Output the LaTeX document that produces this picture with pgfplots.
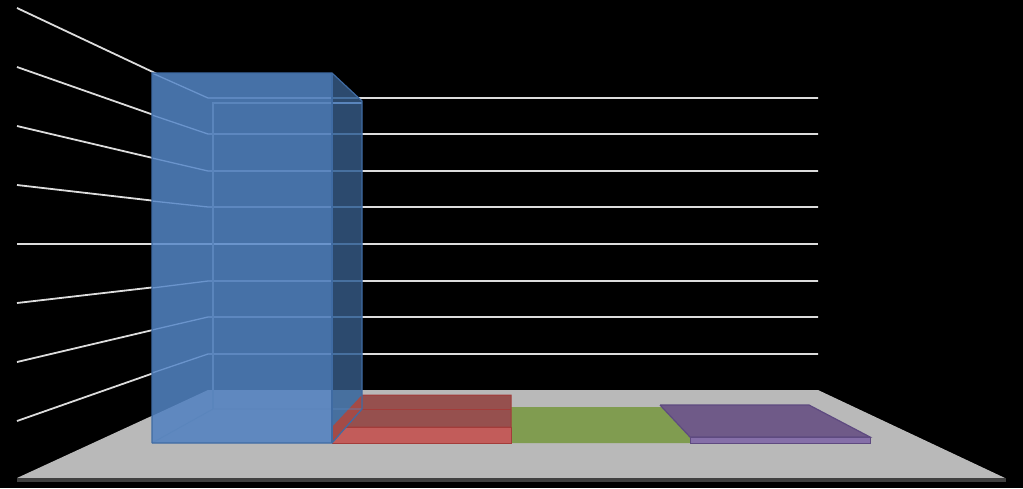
\documentclass[border=0pt]{standalone}
\usepackage{pgfplots}
\pgfplotsset{compat=1.18}
\definecolor{gridc}{HTML}{DCDCDC}
\definecolor{floorc}{HTML}{B9B9B9}
\definecolor{blueF}{HTML}{4671A7}
\definecolor{blueL}{HTML}{5F88BF}
\definecolor{blueS}{HTML}{2C4A6E}
\definecolor{blueSL}{HTML}{47709F}
\definecolor{blueE}{HTML}{3F6BA3}
\definecolor{blueG}{HTML}{6A94CC}
\definecolor{blueI}{HTML}{5A85BC}
\definecolor{redF}{HTML}{C25C5A}
\definecolor{redT}{HTML}{96504E}
\definecolor{redS}{HTML}{A34B47}
\definecolor{redE}{HTML}{A33C3A}
\definecolor{greenF}{HTML}{809C50}
\definecolor{purT}{HTML}{6F5A88}
\definecolor{purF}{HTML}{856FA8}
\definecolor{purE}{HTML}{5E4A80}
\begin{document}
\begin{tikzpicture}
\begin{axis}[scale only axis,width=1023pt,height=488pt,xmin=0,xmax=1023,ymin=0,ymax=488,y dir=reverse,hide axis,clip=true,no markers]
% background
\addplot[fill=black,draw=none] coordinates {(0,0)(1023,0)(1023,488)(0,488)};
% gridlines
\addplot[gridc,line width=1.8pt] coordinates {(17,8)(208,98)(818,98)};
\addplot[gridc,line width=1.8pt] coordinates {(17,67)(208,134)(818,134)};
\addplot[gridc,line width=1.8pt] coordinates {(17,126)(208,171)(818,171)};
\addplot[gridc,line width=1.8pt] coordinates {(17,185)(208,207)(818,207)};
\addplot[gridc,line width=1.8pt] coordinates {(17,244)(208,244)(818,244)};
\addplot[gridc,line width=1.8pt] coordinates {(17,303)(208,281)(818,281)};
\addplot[gridc,line width=1.8pt] coordinates {(17,362)(208,317)(818,317)};
\addplot[gridc,line width=1.8pt] coordinates {(17,421)(208,354)(818,354)};
% floor
\addplot[fill=floorc,draw=none] coordinates {(17,478)(1005,478)(818,390)(208,390)};
\addplot[fill=black!75,draw=none] coordinates {(17,478)(1006,478)(1006,482)(17,482)};
% green bar
\addplot[fill=greenF,draw=none] coordinates {(511,407)(670,407)(690,437)(690,443)(511,443)};
% red bar
\addplot[fill=redT,draw=redE,line width=1pt] coordinates {(332,427)(362,395)(511,395)(511,427)(332,427)};
\addplot[fill=redF,draw=redE,line width=1pt] coordinates {(332,427)(511,427)(511,443)(332,443)(332,427)};
\addplot[redE,line width=0.8pt] coordinates {(362,409)(511,409)};
% blue bar
\addplot[fill=blueF,draw=none] coordinates {(152,73)(332,73)(332,443)(152,443)};
\addplot[fill=blueL,draw=none] coordinates {(152,416)(208,390)(332,390)(332,443)(152,443)};
\addplot[fill=blueS,draw=none] coordinates {(332,73)(362,101)(362,390)(332,390)};
\addplot[fill=blueSL,draw=none] coordinates {(332,390)(362,390)(362,409)(332,443)};
\addplot[fill=redS,draw=none] coordinates {(332,427)(362,395)(362,409)(332,443)};
% grid seen through the bar
\addplot[blueG,line width=1.3pt] coordinates {(152,73)(208,98)(332,98)};
\addplot[blueG,line width=1.3pt] coordinates {(152,115)(208,134)(332,134)};
\addplot[blueG,line width=1.3pt] coordinates {(152,158)(208,171)(332,171)};
\addplot[blueG,line width=1.3pt] coordinates {(152,201)(208,207)(332,207)};
\addplot[blueG,line width=1.3pt] coordinates {(152,244)(208,244)(332,244)};
\addplot[blueG,line width=1.3pt] coordinates {(152,288)(208,281)(332,281)};
\addplot[blueG,line width=1.3pt] coordinates {(152,330)(208,317)(332,317)};
\addplot[blueG,line width=1.3pt] coordinates {(152,373)(208,354)(332,354)};
\addplot[blueSL,line width=1.1pt] coordinates {(333,98)(358,98)};
\addplot[blueSL,line width=1.1pt] coordinates {(333,134)(362,134)};
\addplot[blueSL,line width=1.1pt] coordinates {(333,171)(362,171)};
\addplot[blueSL,line width=1.1pt] coordinates {(333,207)(362,207)};
\addplot[blueSL,line width=1.1pt] coordinates {(333,244)(362,244)};
\addplot[blueSL,line width=1.1pt] coordinates {(333,281)(362,281)};
\addplot[blueSL,line width=1.1pt] coordinates {(333,317)(362,317)};
\addplot[blueSL,line width=1.1pt] coordinates {(333,354)(362,354)};
% bar inner edges
\addplot[blueI,line width=1.1pt] coordinates {(213,409)(213,103)(362,103)};
\addplot[blueI,line width=0.8pt] coordinates {(152,443)(213,409)(362,409)};
\addplot[blueE,line width=1.2pt] coordinates {(152,443)(152,73)(332,73)(362,101)(362,409)(332,443)(152,443)};
\addplot[blueE,line width=1.2pt] coordinates {(332,73)(332,443)};
% purple bar
\addplot[fill=purT,draw=purE,line width=1.2pt] coordinates {(660,405)(809,405)(870,437)(690,437)(660,405)};
\addplot[fill=purF,draw=purE,line width=0.8pt] coordinates {(690,437)(870,437)(870,443)(690,443)(690,437)};
\end{axis}
\end{tikzpicture}
\end{document}
